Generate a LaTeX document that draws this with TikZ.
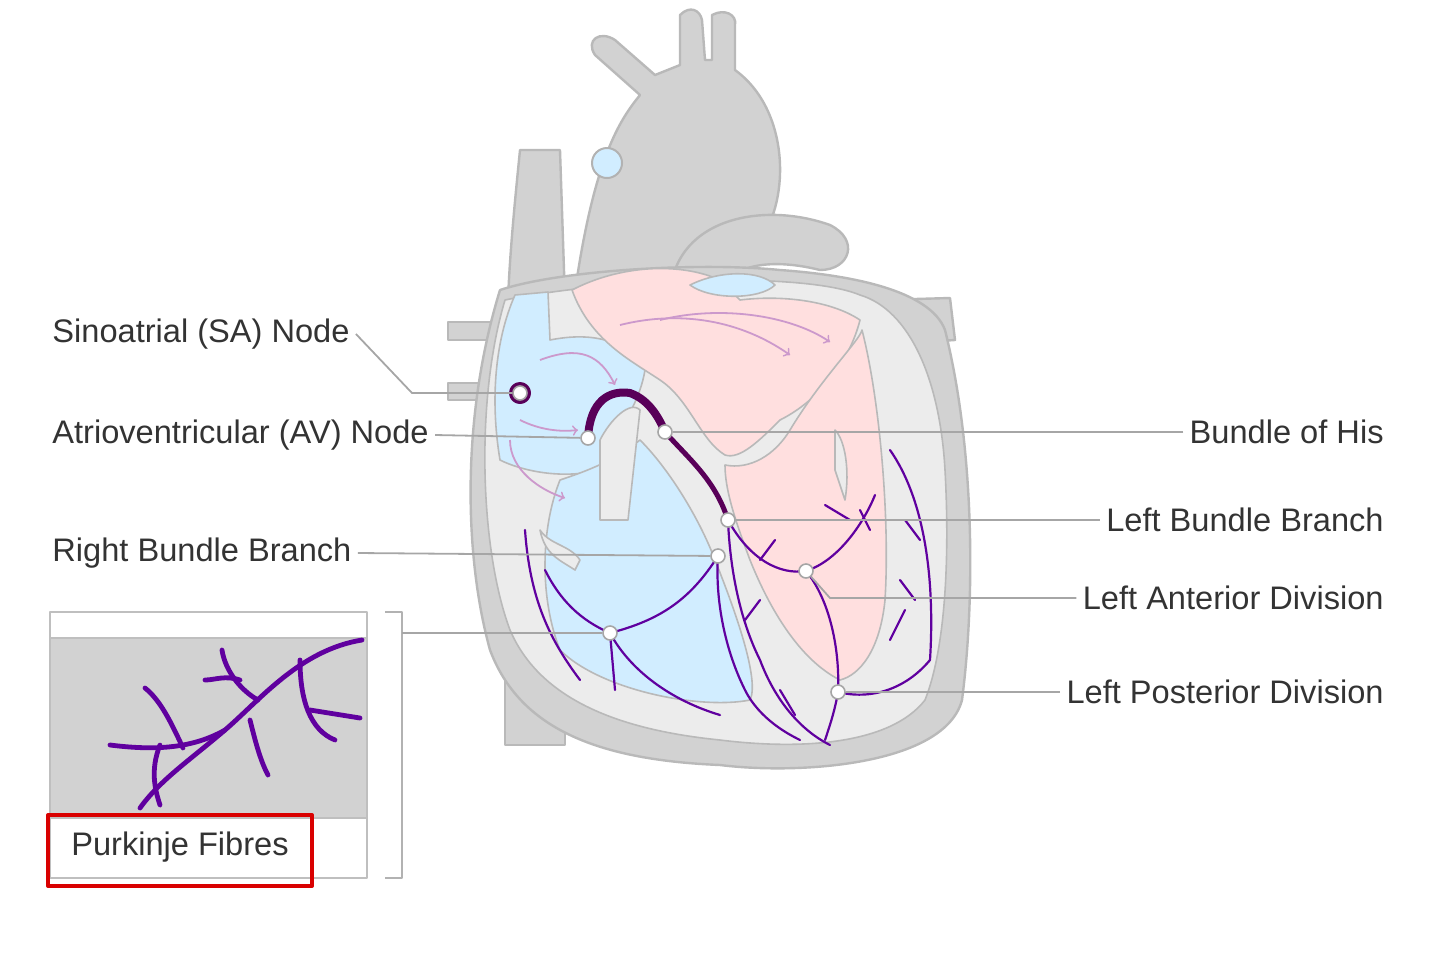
\documentclass[tikz,border=0pt]{standalone}
\usepackage{fontspec}
\setmainfont{Liberation Sans}
\begin{document}
\begin{tikzpicture}[x=0.5pt,y=-0.5pt,line join=round,
  wall/.style={fill=gray!35,draw=gray!55,line width=1.2pt},
  inner/.style={fill=gray!15,draw=gray!55,line width=0.8pt},
  ra/.style={fill=blue!40!cyan!18!white,draw=gray!55,line width=0.8pt},
  lv/.style={fill=pink!50!white,draw=gray!55,line width=0.8pt},
  cond/.style={draw=violet!70!black,line width=4pt,line cap=round},
  fib/.style={draw=violet!75!blue,line width=1.1pt,line cap=round},
  dot/.style={circle,fill=white,draw=gray!70,line width=0.8pt,inner sep=0pt,minimum size=7pt},
  lead/.style={draw=gray!70,line width=0.9pt},
  lbl/.style={font=\fontsize{16.3}{19}\selectfont,text=black!80,inner sep=3pt},
  arr/.style={draw=violet!40,line width=0.9pt,->}]
\useasboundingbox (0,0) rectangle (1440,976);
% vessels
\draw[wall] (508,300) .. controls (510,250) and (515,200) .. (520,150) -- (560,150) -- (565,300) -- cycle;
\draw[wall] (505,640) -- (505,745) -- (565,745) -- (565,640) -- cycle;
\draw[wall] (448,322) -- (520,322) -- (520,400) -- (448,400) -- (448,383) -- (500,383) -- (500,340) -- (448,340) -- cycle;
\draw[wall] (880,300) -- (950,298) -- (955,340) -- (880,345) -- cycle;
\draw[wall] (570,330) .. controls (590,160) and (620,120) .. (640,95) -- (595,55) .. controls (585,40) and (600,30) .. (615,40) -- (655,75) -- (680,65) -- (680,15) .. controls (690,5) and (700,10) .. (702,20) -- (705,60) -- (712,60) -- (712,15) .. controls (725,8) and (737,15) .. (735,25) -- (735,70)
  .. controls (790,110) and (790,200) .. (760,240) -- (700,300) -- cycle;
\draw[wall] (670,300) .. controls (670,220) and (760,200) .. (830,225) .. controls (860,240) and (850,270) .. (820,270) .. controls (760,255) and (720,270) .. (720,300) -- cycle;
\draw[fill=blue!40!cyan!18!white,draw=gray!60,line width=1pt] (607,163) circle (15);
% heart body
\draw[wall] (500,290) .. controls (560,270) and (700,262) .. (780,270) .. controls (850,275) and (930,290) .. (945,330)
  .. controls (975,450) and (975,600) .. (962,700) .. controls (945,765) and (800,775) .. (720,765)
  .. controls (600,760) and (520,730) .. (490,650) .. controls (465,560) and (460,420) .. (500,290) -- cycle;
\draw[inner] (505,300) .. controls (600,280) and (800,270) .. (860,295) .. controls (910,310) and (940,380) .. (945,470)
  .. controls (950,560) and (945,650) .. (925,700) .. controls (890,745) and (800,750) .. (720,740)
  .. controls (620,730) and (540,700) .. (510,630) .. controls (480,550) and (475,400) .. (505,300) -- cycle;
% right atrium
\draw[ra] (515,295) -- (548,292) -- (550,340) .. controls (600,330) and (630,345) .. (645,370) .. controls (640,400) and (625,420) .. (615,440)
  -- (600,470) .. controls (560,480) and (520,470) .. (500,460) .. controls (490,400) and (495,340) .. (515,295) -- cycle;
% right ventricle
\draw[ra] (560,480) .. controls (590,470) and (615,460) .. (640,440) .. controls (670,470) and (700,520) .. (715,560)
  .. controls (735,610) and (760,680) .. (750,700) .. controls (700,710) and (600,690) .. (560,650) .. controls (540,600) and (540,530) .. (560,480) -- cycle;
\draw[inner] (600,440) .. controls (610,420) and (630,400) .. (640,410) -- (628,520) -- (600,520) -- cycle;
% left atrium
\draw[lv] (572,290) .. controls (620,265) and (680,262) .. (720,280) -- (740,300) .. controls (780,295) and (830,300) .. (860,320)
  .. controls (850,360) and (820,400) .. (780,420) .. controls (760,440) and (740,460) .. (725,455) .. controls (700,440) and (690,400) .. (660,380)
  .. controls (630,360) and (590,340) .. (572,290) -- cycle;
\draw[ra] (690,285) .. controls (720,270) and (760,270) .. (775,285) .. controls (760,300) and (710,300) .. (690,285) -- cycle;
% left ventricle
\draw[lv] (790,430) .. controls (820,380) and (860,340) .. (862,330) .. controls (880,400) and (890,520) .. (885,600)
  .. controls (880,650) and (860,675) .. (840,680) .. controls (800,660) and (770,610) .. (750,560)
  .. controls (735,520) and (725,490) .. (725,465) .. controls (750,470) and (775,455) .. (790,430) -- cycle;
\draw[inner] (835,430) .. controls (845,440) and (850,470) .. (845,500) -- (835,470) -- cycle;
\draw[inner] (540,530) .. controls (550,545) and (570,545) .. (580,560) -- (575,570) .. controls (560,560) and (545,555) .. (540,530) -- cycle;
% flow arrows
\draw[arr] (540,360) .. controls (580,345) and (600,355) .. (615,385);
\draw[arr] (520,420) .. controls (540,430) and (560,432) .. (578,430);
\draw[arr] (510,440) .. controls (510,470) and (540,490) .. (565,498);
\draw[arr] (620,325) .. controls (680,310) and (740,320) .. (790,355);
\draw[arr] (660,320) .. controls (720,305) and (790,315) .. (830,342);
% conduction system
\draw[draw=violet!70!black,line width=3pt] (520,393) circle (8);
\draw[cond] (588,438) .. controls (590,400) and (610,390) .. (630,393) .. controls (650,400) and (660,420) .. (665,432);
\draw[draw=violet!70!black,line width=2.5pt] (665,432) .. controls (690,460) and (715,480) .. (728,520);
% fibres
\draw[fib] (728,520) .. controls (730,570) and (740,620) .. (760,660) .. controls (775,700) and (800,730) .. (830,745);
\draw[fib] (728,520) .. controls (750,560) and (780,575) .. (806,571) .. controls (840,560) and (865,520) .. (875,495);
\draw[fib] (806,571) .. controls (830,600) and (840,650) .. (838,692) .. controls (870,700) and (905,690) .. (930,660);
\draw[fib] (838,692) .. controls (835,710) and (830,725) .. (825,740);
\draw[fib] (718,556) .. controls (715,600) and (725,650) .. (745,690) .. controls (760,720) and (790,735) .. (800,740);
\draw[fib] (718,556) .. controls (690,600) and (660,620) .. (610,633);
\draw[fib] (610,633) .. controls (580,620) and (560,600) .. (545,570);
\draw[fib] (610,633) .. controls (630,670) and (670,700) .. (720,715);
\draw[fib] (610,633) -- (615,690);
\draw[fib] (525,530) .. controls (530,600) and (550,640) .. (580,680);
\draw[fib] (930,660) .. controls (935,580) and (925,500) .. (890,450);
\draw[fib] (915,600) -- (900,580); \draw[fib] (920,540) -- (905,520); \draw[fib] (760,600) -- (745,620);
\draw[fib] (780,690) -- (795,715); \draw[fib] (850,520) -- (825,505); \draw[fib] (860,510) -- (870,530);
\draw[fib] (890,640) -- (905,610); \draw[fib] (760,560) -- (775,540);
% dots
\node[dot] (sa) at (520,393) {};
\node[dot] (av) at (588,438) {};
\node[dot] (his) at (665,432) {};
\node[dot] (lbb) at (728,520) {};
\node[dot] (rbb) at (718,556) {};
\node[dot] (lad) at (806,571) {};
\node[dot] (lpd) at (838,692) {};
\node[dot] (pf) at (610,633) {};
% labels
\node[lbl,anchor=west] (tsa) at (46,334) {Sinoatrial (SA) Node};
\node[lbl,anchor=west] (tav) at (46,435) {Atrioventricular (AV) Node};
\node[lbl,anchor=west] (trbb) at (46,553) {Right Bundle Branch};
\node[lbl,anchor=east] (this) at (1390,432) {Bundle of His};
\node[lbl,anchor=east] (tlbb) at (1390,520) {Left Bundle Branch};
\node[lbl,anchor=east] (tlad) at (1390,598) {Left Anterior Division};
\node[lbl,anchor=east] (tlpd) at (1390,692) {Left Posterior Division};
\coordinate (k1) at (412,393);
\coordinate (k2) at (830,598);
\coordinate (k3) at (405,633);
\draw[lead] (tsa.east) -- (k1) -- (sa);
\draw[lead] (tav.east) -- (av);
\draw[lead] (trbb.east) -- (rbb);
\draw[lead] (this.west) -- (his);
\draw[lead] (tlbb.west) -- (lbb);
\draw[lead] (tlad.west) -- (k2) -- (lad);
\draw[lead] (tlpd.west) -- (lpd);
\draw[lead] (k3) -- (pf);
% inset
\draw[gray!50,line width=0.8pt,fill=white] (50,612) rectangle (367,878);
\fill[gray!35] (51,638) rectangle (366,818);
\draw[gray!50,line width=0.8pt] (50,638) -- (367,638) (50,818) -- (367,818);
\begin{scope}[draw=violet!75!blue,line width=2.4pt,line cap=round]
\draw (362,640) .. controls (300,650) and (260,700) .. (225,730) .. controls (190,750) and (150,750) .. (110,745);
\draw (225,730) .. controls (190,760) and (160,780) .. (140,808);
\draw (183,748) .. controls (170,720) and (160,700) .. (145,688);
\draw (160,745) .. controls (150,770) and (155,790) .. (160,805);
\draw (258,700) .. controls (240,690) and (225,670) .. (222,650);
\draw (240,680) .. controls (225,675) and (215,680) .. (205,680);
\draw (300,660) .. controls (300,700) and (310,730) .. (335,740);
\draw (310,710) -- (360,718);
\draw (250,720) .. controls (255,740) and (260,760) .. (268,775);
\end{scope}
\node[lbl] (tpf) at (180,847) {Purkinje Fibres};
\draw[red!85!black,line width=2pt] (48,815) rectangle (312,886);
\draw[gray!60,line width=0.9pt] (385,612) -- (402,612) -- (402,878) -- (385,878);
\draw[lead] (402,633) -- (k3);
\end{tikzpicture}
\end{document}
